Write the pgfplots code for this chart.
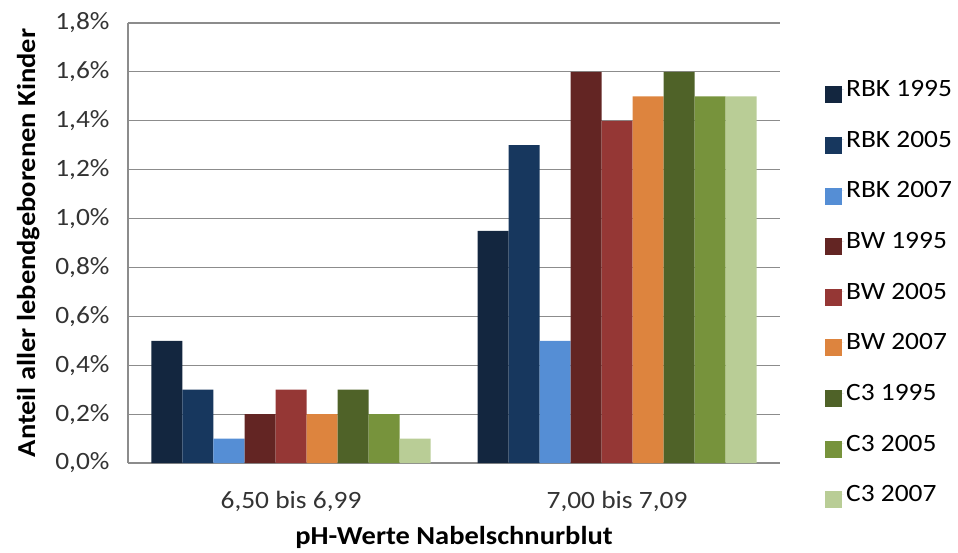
\documentclass[border=0pt]{standalone}
\usepackage{pgfplots}
\pgfplotsset{compat=1.18}
\usepackage{fontspec}
\setmainfont[FakeStretch=1.1]{Carlito}
\definecolor{c1}{HTML}{13263F}
\definecolor{c2}{HTML}{17375E}
\definecolor{c3}{HTML}{558ED5}
\definecolor{c4}{HTML}{632523}
\definecolor{c5}{HTML}{953735}
\definecolor{c6}{HTML}{DD843E}
\definecolor{c7}{HTML}{4F6228}
\definecolor{c8}{HTML}{77933C}
\definecolor{c9}{HTML}{B9CD96}
\definecolor{gridc}{HTML}{8C8C8C}
\begin{document}
\begin{tikzpicture}[x=1bp,y=1bp]
\useasboundingbox (-128bp,-90bp) rectangle (830bp,463bp);
\begin{axis}[
  at={(0,0)}, anchor=south west,
  scale only axis,
  width=652bp, height=440bp,
  ybar=0pt, bar width=31bp,
  xmin=-0.5, xmax=1.5,
  ymin=0, ymax=1.8,
  ytick={0,0.2,...,1.8},
  xtick={0,1},
  xticklabels={{6,50 bis 6,99},{7,00 bis 7,09}},
  /pgf/number format/assume math mode=true,
  yticklabel={\pgfmathprintnumber[fixed,fixed zerofill,precision=1,use comma,assume math mode=true]{\tick}\%},
  ymajorgrids,
  grid style={gridc, line width=1.2pt},
  axis x line*=bottom, axis y line*=left,
  axis line style={gridc, line width=1.2pt},
  y axis line style={-},
  x axis line style={-},
  tick style={gridc, line width=1.2pt},
  ytick pos=left,
  major tick length=8bp,
  xtick style={draw=none},
  tick label style={font=\fontsize{25}{30}\selectfont, text=black!80},
  xticklabel style={yshift=-17bp},
  yticklabel style={xshift=-15bp},
  xlabel={pH-Werte Nabelschnurblut},
  ylabel={Anteil aller lebendgeborenen Kinder},
  label style={font=\bfseries\fontsize{26}{30}\selectfont},
  xlabel style={yshift=-7bp},
  ylabel shift=9bp,
  legend style={draw=none, at={(1.069,0.389)}, anchor=west,
    font=\fontsize{25}{30}\selectfont, row sep=29bp, inner sep=0pt,
    cells={anchor=west}},
  legend image code/.code={\path (0bp,0bp) -- (19bp,0bp);\fill[#1,overlay] (0bp,-14bp) rectangle (17bp,3bp);},
  every axis plot/.append style={draw=none},
]
\addplot[fill=c1] coordinates {(0,0.5) (1,0.95)};
\addplot[fill=c2] coordinates {(0,0.3) (1,1.3)};
\addplot[fill=c3] coordinates {(0,0.1) (1,0.5)};
\addplot[fill=c4] coordinates {(0,0.2) (1,1.6)};
\addplot[fill=c5] coordinates {(0,0.3) (1,1.4)};
\addplot[fill=c6] coordinates {(0,0.2) (1,1.5)};
\addplot[fill=c7] coordinates {(0,0.3) (1,1.6)};
\addplot[fill=c8] coordinates {(0,0.2) (1,1.5)};
\addplot[fill=c9] coordinates {(0,0.1) (1,1.5)};
\legend{RBK 1995,RBK 2005,RBK 2007,BW 1995,BW 2005,BW 2007,C3 1995,C3 2005,C3 2007}
\end{axis}
\end{tikzpicture}
\end{document}
